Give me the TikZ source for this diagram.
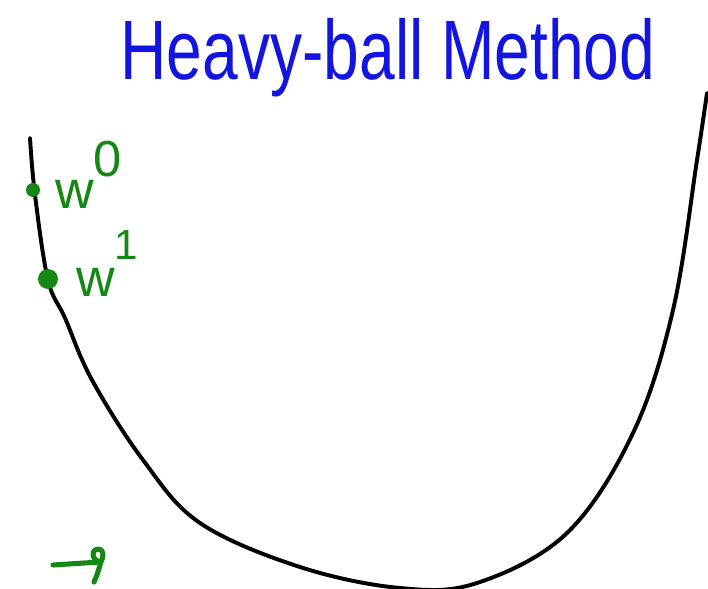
\documentclass[tikz,border=0pt]{standalone}
\usepackage{fontspec}
\setmainfont{Liberation Sans}
\definecolor{penblue}{RGB}{20,20,225}
\definecolor{pengreen}{RGB}{20,135,20}
\tikzset{
  curve/.style={line width=2.8pt, black, line cap=round, line join=round},
  greenpen/.style={pengreen, line width=3.6pt, line cap=round, line join=round},
  dotmark/.style={circle, fill=pengreen, inner sep=0pt},
  wlabel/.style={pengreen, inner sep=0pt, anchor=base west},
}
\begin{document}
\begin{tikzpicture}[x=0.025cm, y=-0.025cm]
\useasboundingbox (0,0) rectangle (708,589);
% title
\node[penblue, anchor=base, xscale=0.76, inner sep=0pt] (title) at (388,80)
  {\fontsize{60}{60}\selectfont Heavy-ball Method};
% curve
\draw[curve] plot[smooth, tension=0.6] coordinates {
  (30,138) (35,195) (48,280) (65,318) (92,380) (143,460) (200,523)
  (300,567) (400,588) (477,583) (567,533) (633,433) (673,310) (697,160) (707,93)};
% points
\node[dotmark, minimum size=14*0.025cm] (p0) at (33,190) {};
\node[dotmark, minimum size=20*0.025cm] (p1) at (48,279) {};
\node[wlabel] (w0) at (55,209)
  {\fontsize{38}{38}\selectfont w\raisebox{0.6em}{\fontsize{36}{36}\selectfont 0}};
\node[wlabel] (w1) at (76,296)
  {\fontsize{38}{38}\selectfont w\raisebox{0.68em}{\fontsize{30}{30}\selectfont 1}};
% small green vector arrow
\coordinate (a0) at (53,565);
\coordinate (a1) at (100,562);
\draw[greenpen] (a0) -- (a1);
\draw[greenpen] (a1) .. controls (92,560) and (90,550) .. (98,549)
  .. controls (104,549) and (104,556) .. (101,562)
  .. controls (99,568) and (97,576) .. (94,582);
\end{tikzpicture}
\end{document}
